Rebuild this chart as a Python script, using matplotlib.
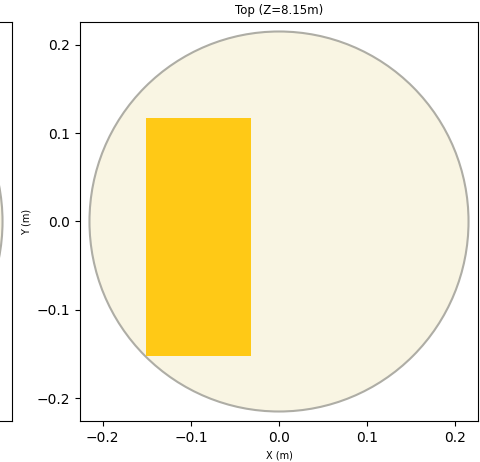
import numpy as np
import matplotlib.pyplot as plt
from matplotlib.patches import Circle, Rectangle

# tank cross-section and block footprint (m)
tank_radius = 0.215
block_x = [-0.151, -0.032]
block_y = [-0.152, 0.117]
z_level = 8.15

W, H = 480, 462
fig = plt.figure(figsize=(W / 100, H / 100), dpi=100)


def px_axes(x0, x1, y0, y1):
    return fig.add_axes([x0 / W, 1 - y1 / H, (x1 - x0) / W, (y1 - y0) / H])


def draw_view(ax):
    ax.add_patch(Circle((0, 0), tank_radius, facecolor='#f9f5e3',
                        edgecolor='#aeada5', linewidth=1.5))
    ax.set_xlim(-tank_radius * 1.05, tank_radius * 1.05)
    ax.set_ylim(-tank_radius * 1.05, tank_radius * 1.05)


# neighbouring panel, mostly cut off
ax0 = px_axes(-386, 12, 22, 421)
draw_view(ax0)
ax0.set_xticks([])
ax0.set_yticks([])

ax = px_axes(80, 478, 22, 421)
draw_view(ax)
ax.add_patch(Rectangle((block_x[0], block_y[0]), block_x[1] - block_x[0],
                       block_y[1] - block_y[0], facecolor='#ffc916',
                       edgecolor='none'))
ax.set_xticks([-0.2, -0.1, 0.0, 0.1, 0.2])
ax.set_yticks([-0.2, -0.1, 0.0, 0.1, 0.2])
ax.set_title(f'Top (Z={z_level}m)', fontsize=8.5)
ax.set_xlabel('X (m)', fontsize=7)
ax.set_ylabel('Y (m)', fontsize=7)

fig.savefig('out.png', dpi=100)
